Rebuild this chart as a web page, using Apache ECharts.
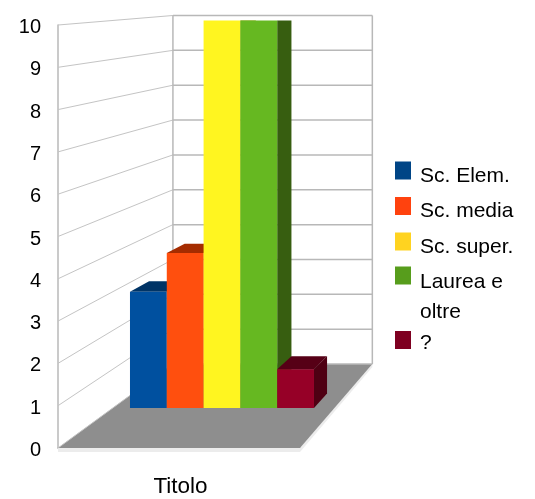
<!DOCTYPE html>
<html>
<head>
<meta charset="utf-8">
<style>html,body{margin:0;padding:0;background:#fff}#main{width:535px;height:499px}</style>
<script src="https://cdn.jsdelivr.net/npm/echarts@6/dist/echarts.min.js"></script>
</head>
<body>
<div id="main"></div>
<script>
let categories = ['Titolo'];
let seriesNames = ['Sc. Elem.', 'Sc. media', 'Sc. super.', 'Laurea e oltre', '?'];
let seriesValues = [3, 4, 10, 10, 1];
let yTicks = [0, 1, 2, 3, 4, 5, 6, 7, 8, 9, 10];

let legendColors = ['#004586', '#ff420e', '#ffd320', '#579d1c', '#7e0021'];
let frontColors = ['#00509f', '#ff4f0e', '#fff520', '#66b821', '#960027'];
let topColors = ['#003466', '#a52c00', '#a09a10', '#375e10', '#560016'];
let sideColors = ['#003466', '#a52c00', '#a09a10', '#375e10', '#4f0013'];

let FONT = '"Liberation Sans", Arial, sans-serif';
let WALL = '#b8b8b8';

// fake perspective: every depth line runs to one vanishing point
let VP = [711, -29];
let WALL_DEPTH = 0.176;
let BAR_FRONT = 0.0839;
let BAR_BACK = 0.114;
let BAR_WIDTH = 0.166; // share of the category band
let BAR_SHIFT = -1.8;

function project(p, t) {
  return [p[0] + (VP[0] - p[0]) * t, p[1] + (VP[1] - p[1]) * t];
}

function renderFloor(params, api) {
  let c = api.coord([0, 0]);
  let half = api.size([1, 0])[0] / 2;
  let fl = [c[0] - half, c[1]];
  let fr = [c[0] + half, c[1]];
  let bl = project(fl, WALL_DEPTH);
  let br = project(fr, WALL_DEPTH);
  return {
    type: 'group',
    children: [
      { type: 'polygon', shape: { points: [[fl[0], fl[1] + 4], [fr[0], fr[1] + 4], [br[0], br[1] + 3], br, fr, fl] }, style: { fill: '#ececec' } },
      { type: 'polygon', shape: { points: [fl, fr, br, bl] }, style: { fill: '#8e8e8e' } }
    ]
  };
}

function renderWall(params, api) {
  let c = api.coord([0, api.value(1)]);
  let half = api.size([1, 0])[0] / 2;
  let left = [c[0] - half, c[1]];
  let backLeft = project(left, WALL_DEPTH);
  let backRight = project([c[0] + half, c[1]], WALL_DEPTH);
  let kids = [
    { type: 'line', shape: { x1: left[0], y1: left[1], x2: backLeft[0], y2: backLeft[1] }, style: { stroke: '#c4c4c4', lineWidth: 1 } },
    { type: 'line', shape: { x1: backLeft[0], y1: backLeft[1], x2: backRight[0], y2: backRight[1] }, style: { stroke: WALL, lineWidth: 1.5 } }
  ];
  if (params.dataIndex === yTicks.length - 1) {
    // the uprights of the back wall
    let base = api.coord([0, 0]);
    let bottomLeft = project([c[0] - half, base[1]], WALL_DEPTH);
    let bottomRight = project([c[0] + half, base[1]], WALL_DEPTH);
    kids.push(
      { type: 'line', shape: { x1: backLeft[0], y1: backLeft[1], x2: bottomLeft[0], y2: bottomLeft[1] }, style: { stroke: WALL, lineWidth: 1.5 } },
      { type: 'line', shape: { x1: backRight[0], y1: backRight[1], x2: bottomRight[0], y2: bottomRight[1] }, style: { stroke: WALL, lineWidth: 1.5 } }
    );
  }
  return { type: 'group', children: kids };
}

function makeRenderBar(index) {
  return function (params, api) {
    let v = api.value(1);
    let top = api.coord([0, v]);
    let base = api.coord([0, 0]);
    let w = api.size([1, 0])[0] * BAR_WIDTH;
    let x0 = top[0] + BAR_SHIFT + (index - 2.5) * w;
    let x1 = x0 + w;
    let a = project([x0, top[1]], BAR_FRONT);
    let b = project([x1, top[1]], BAR_FRONT);
    let c = project([x1, base[1]], BAR_FRONT);
    let d = project([x0, base[1]], BAR_FRONT);
    let a2 = project([x0, top[1]], BAR_BACK);
    let b2 = project([x1, top[1]], BAR_BACK);
    let c2 = project([x1, base[1]], BAR_BACK);
    let kids = [];
    if (v < 10) {
      kids.push({ type: 'polygon', shape: { points: [a, b, b2, a2] }, style: { fill: topColors[index] } });
    } else {
      // cut off flat at the axis maximum, as in the picture
      b2 = [b2[0], b[1]];
    }
    kids.push({ type: 'polygon', shape: { points: [b, b2, c2, c] }, style: { fill: sideColors[index] } });
    kids.push({ type: 'polygon', shape: { points: [a, b, c, d] }, style: { fill: frontColors[index] } });
    return { type: 'group', children: kids };
  };
}

let myChart = echarts.init(document.getElementById('main'));

let series = [
  {
    type: 'custom',
    name: 'floor',
    silent: true,
    renderItem: renderFloor,
    data: [[0, 0]],
    z: 1
  },
  {
    type: 'custom',
    name: 'wall',
    silent: true,
    renderItem: renderWall,
    data: yTicks.map(function (t) { return [0, t]; }),
    z: 1
  }
];
seriesNames.forEach(function (name, i) {
  series.push({
    type: 'custom',
    name: name,
    silent: true,
    itemStyle: { color: legendColors[i] },
    renderItem: makeRenderBar(i),
    data: [[0, seriesValues[i]]],
    z: 2
  });
});

let legendBase = {
  orient: 'vertical',
  left: 395,
  icon: 'rect',
  itemWidth: 16,
  itemHeight: 18,
  padding: 0,
  selectedMode: false
};
let legendText = { fontFamily: FONT, fontSize: 21, color: '#000' };

let option = {
  animation: false,
  backgroundColor: '#fff',
  legend: [
    Object.assign({}, legendBase, {
      top: 161.5,
      itemGap: 10.5,
      data: seriesNames.slice(0, 3),
      formatter: '{t|{name}}',
      textStyle: { rich: { t: Object.assign({ padding: [11, 0, 0, 4] }, legendText) } }
    }),
    Object.assign({}, legendBase, {
      top: 235,
      data: [seriesNames[3]],
      // blank first line keeps the first text line level with the swatch
      formatter: function () { return '{b| }\n{t|Laurea e}\n{t|oltre}'; },
      textStyle: {
        rich: {
          b: Object.assign({ lineHeight: 44 }, legendText),
          t: Object.assign({ lineHeight: 30, padding: [0, 0, 0, 4] }, legendText)
        }
      }
    }),
    Object.assign({}, legendBase, {
      top: 331,
      data: [seriesNames[4]],
      formatter: '{t|{name}}',
      textStyle: { rich: { t: Object.assign({ padding: [6, 0, 0, 4] }, legendText) } }
    })
  ],
  grid: { left: 58, top: 25, width: 242, height: 423 },
  xAxis: {
    type: 'category',
    data: categories,
    axisLine: { lineStyle: { color: WALL, width: 1.5 } },
    axisTick: { show: false },
    axisLabel: { color: '#000', fontFamily: FONT, fontSize: 22.5, margin: 27, padding: [0, 0, 0, 3] }
  },
  yAxis: {
    type: 'value',
    min: 0,
    max: 10,
    interval: 1,
    axisLine: { show: true, lineStyle: { color: WALL, width: 1.5 } },
    axisTick: { show: false },
    splitLine: { show: false },
    axisLabel: {
      margin: 17,
      formatter: '{v|{value}}',
      rich: { v: { color: '#000', fontFamily: FONT, fontSize: 20, padding: [5, 0, 0, 0] } }
    }
  },
  series: series
};

myChart.setOption(option);
</script>
</body>
</html>
